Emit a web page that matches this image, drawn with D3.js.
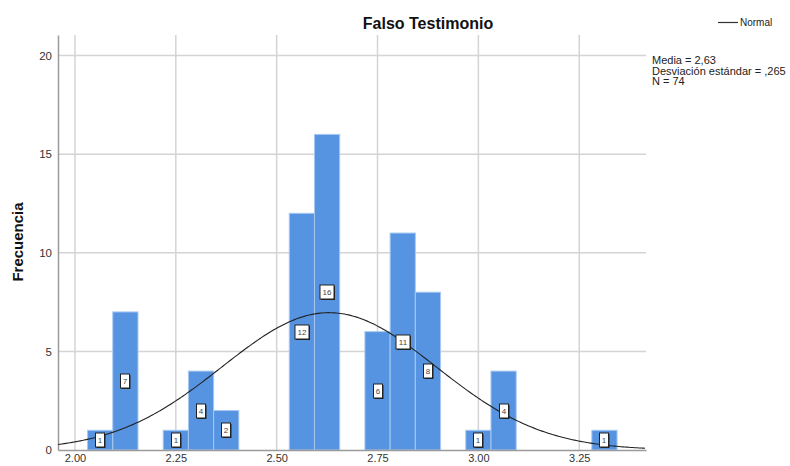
<!DOCTYPE html>
<html>
<head>
<meta charset="utf-8">
<script src="https://cdn.jsdelivr.net/npm/d3@7"></script>
<style>
  body { margin: 0; background: #fff; }
  svg { display: block; font-family: "Liberation Sans", Arial, sans-serif; }
</style>
</head>
<body>
<div id="chart"></div>
<script>
// bin centers and counts (bin width 0.0625)
const binCenters = [2.0625, 2.125, 2.25, 2.3125, 2.375, 2.5625, 2.625, 2.75, 2.8125, 2.875, 3.0, 3.0625, 3.3125];
const counts = [1, 7, 1, 4, 2, 12, 16, 6, 11, 8, 1, 4, 1];
const binWidth = 0.0625;
const xTicks = [2.00, 2.25, 2.50, 2.75, 3.00, 3.25];
const yTicks = [0, 5, 10, 15, 20];
const mean = 2.63, sd = 0.265, n = 74;
const statLines = ["Media = 2,63", "Desviación estándar = ,265", "N = 74"];

const width = 790, height = 466;
const margin = {left: 58, right: 144, top: 35, bottom: 16};

const svg = d3.select("#chart")
  .append("svg")
  .attr("width", width)
  .attr("height", height);

const x = d3.scaleLinear()
  .domain([1.958, 3.4155])
  .range([margin.left, width - margin.right]);

const y = d3.scaleLinear()
  .domain([0, 21.04])
  .range([height - margin.bottom, margin.top]);

// grid
svg.append("g")
  .selectAll("line")
  .data(xTicks)
  .join("line")
  .attr("x1", d => x(d)).attr("x2", d => x(d))
  .attr("y1", y.range()[1]).attr("y2", y(0))
  .attr("stroke", "#d4d4d4")
  .attr("stroke-width", 1.5);

svg.append("g")
  .selectAll("line")
  .data(yTicks.filter(d => d > 0))
  .join("line")
  .attr("x1", x.range()[0]).attr("x2", x.range()[1])
  .attr("y1", d => y(d)).attr("y2", d => y(d))
  .attr("stroke", "#d4d4d4")
  .attr("stroke-width", 1.5);

// bars
const data = binCenters.map((c, i) => ({c, v: counts[i]}));
svg.append("g")
  .selectAll("rect")
  .data(data)
  .join("rect")
  .attr("x", d => x(d.c - binWidth / 2))
  .attr("width", d => x(d.c + binWidth / 2) - x(d.c - binWidth / 2))
  .attr("y", d => y(d.v))
  .attr("height", d => y(0) - y(d.v))
  .attr("fill", "#5694e2")
  .attr("stroke", "#a8c8f0")
  .attr("stroke-width", 1);

// axes
const xAxis = d3.axisBottom(x).tickValues(xTicks).tickSize(0).tickFormat(d3.format(".2f"));
const gx = svg.append("g")
  .attr("transform", `translate(0,${y(0)})`)
  .call(xAxis);
gx.select(".domain").attr("stroke", "#9a9a9a").attr("stroke-width", 1.5);
gx.selectAll("text").attr("dy", "0.6em").attr("y", 5).attr("font-size", 11).attr("fill", "#333")
  .attr("font-family", "Liberation Sans, Arial, sans-serif");

const yAxis = d3.axisLeft(y).tickValues(yTicks).tickSize(0);
const gy = svg.append("g")
  .attr("transform", `translate(${x.range()[0]},0)`)
  .call(yAxis);
gy.select(".domain").attr("stroke", "#9a9a9a").attr("stroke-width", 1.5);
gy.selectAll("text").attr("x", -6).attr("font-size", 11.5).attr("fill", "#333")
  .attr("font-family", "Liberation Sans, Arial, sans-serif");

// normal curve
const scale = n * binWidth / (sd * Math.sqrt(2 * Math.PI));
const curveXs = d3.range(x.domain()[0], x.domain()[1] + 0.001, 0.005);
const line = d3.line()
  .x(d => x(d))
  .y(d => y(scale * Math.exp(-0.5 * ((d - mean) / sd) ** 2)));
svg.append("path")
  .datum(curveXs)
  .attr("d", line)
  .attr("fill", "none")
  .attr("stroke", "#222")
  .attr("stroke-width", 1.1);

// count labels
const boxW = d => String(d.v).length * 5 + 4;
const lab = svg.append("g")
  .selectAll("g")
  .data(data)
  .join("g")
  .attr("transform", d => `translate(${Math.round(x(d.c))},${Math.round(y(d.v / 2))})`);
lab.append("rect")
  .attr("x", d => -boxW(d) / 2 + 1)
  .attr("y", -6)
  .attr("width", boxW)
  .attr("height", 14)
  .attr("fill", "#222");
lab.append("rect")
  .attr("x", d => -boxW(d) / 2)
  .attr("y", -7)
  .attr("width", boxW)
  .attr("height", 14)
  .attr("fill", "#fff")
  .attr("stroke", "#222")
  .attr("stroke-width", 1);
lab.append("text")
  .attr("text-anchor", "middle")
  .attr("dy", "0.35em")
  .attr("font-size", 8)
  .attr("fill", "#444")
  .text(d => d.v);

// title
svg.append("text")
  .attr("x", 428).attr("y", 29)
  .attr("text-anchor", "middle")
  .attr("font-size", 16)
  .attr("font-weight", "bold")
  .attr("fill", "#111")
  .text("Falso Testimonio");

// y label
svg.append("text")
  .attr("transform", `translate(23,242) rotate(-90)`)
  .attr("text-anchor", "middle")
  .attr("font-size", 15)
  .attr("font-weight", "bold")
  .attr("fill", "#111")
  .text("Frecuencia");

// legend
svg.append("line")
  .attr("x1", 718).attr("x2", 738)
  .attr("y1", 22.5).attr("y2", 22.5)
  .attr("stroke", "#333").attr("stroke-width", 1.2);
svg.append("text")
  .attr("x", 740).attr("y", 26)
  .attr("font-size", 10)
  .attr("fill", "#222")
  .text("Normal");

svg.append("g")
  .selectAll("text")
  .data(statLines)
  .join("text")
  .attr("x", 652)
  .attr("y", (d, i) => 64 + i * 10.5)
  .attr("font-size", 11)
  .attr("fill", "#222")
  .text(d => d);
</script>
</body>
</html>
